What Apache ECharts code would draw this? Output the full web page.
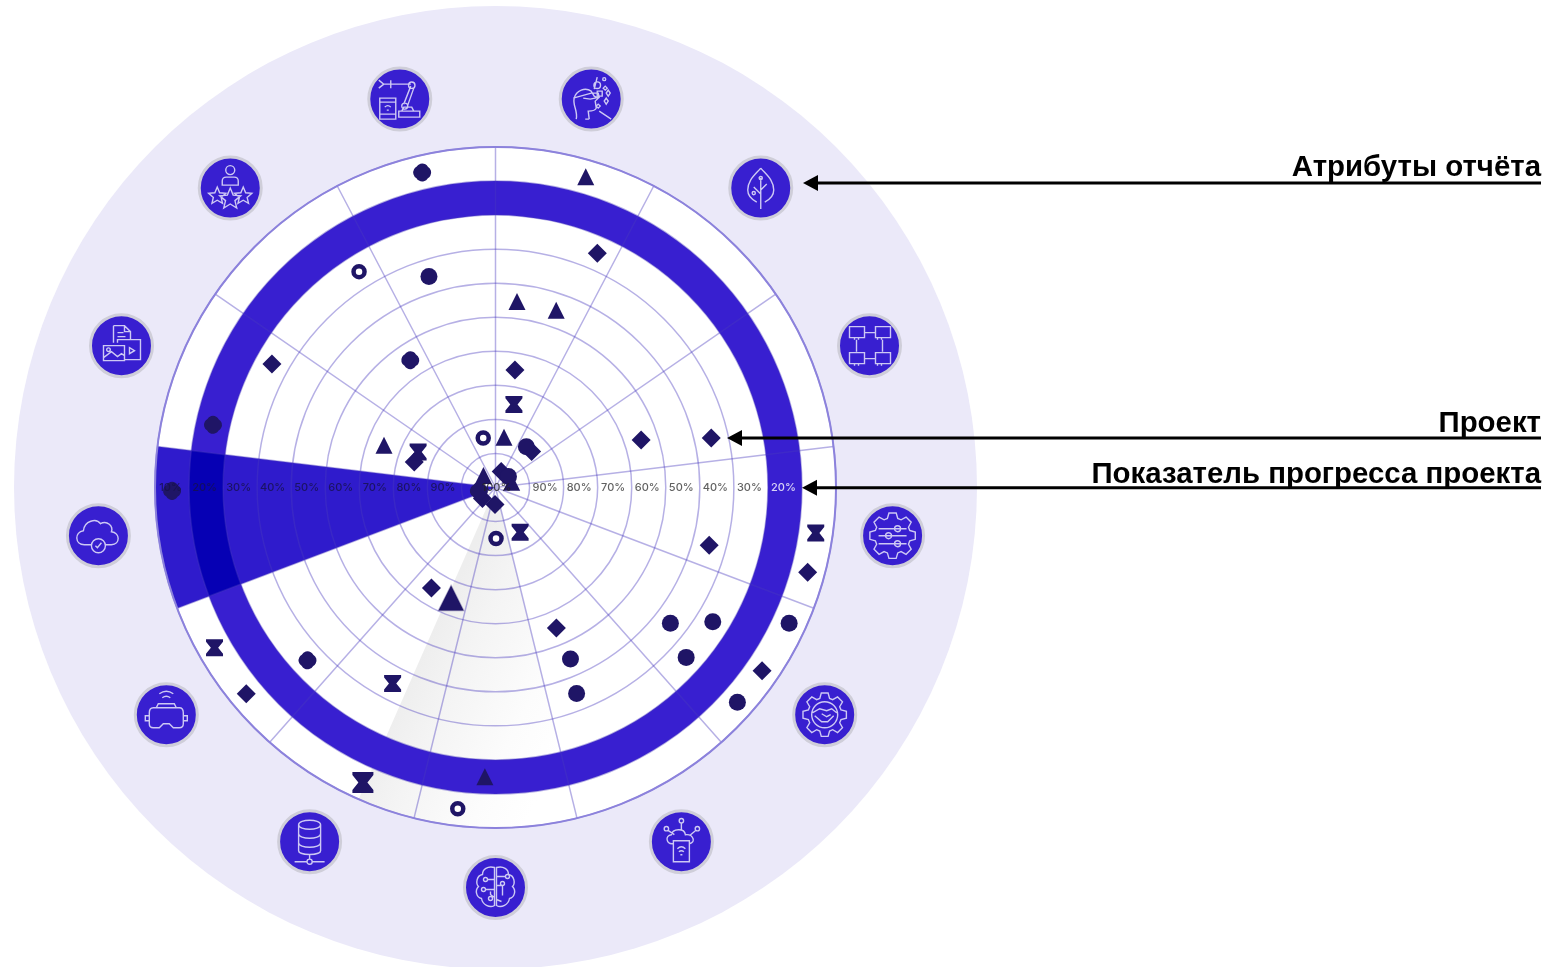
<!DOCTYPE html>
<html><head><meta charset="utf-8">
<style>html,body{margin:0;padding:0;background:#fff}#c{width:1566px;height:967px}</style>
<script src="https://cdn.jsdelivr.net/npm/echarts@6/dist/echarts.min.js"></script>
</head><body><div id="c"></div>
<script>
// ---- data: [progress band position, angle in degrees clockwise from 12 o'clock]
const diamonds = [[25,23.5],[65,9.4],[35,77.1],[55,71.9],[35,105.1],[5,105.2],[5,124.5],[55,156.6],[65,212.5],[5,230.4],[25,298.9],[75,287.4],[95,181.7],[95,230],[85,45],[95,19.5]];
const clovers = [[5,346.9],[15,282.5],[55,326.2],[25,227.4],[5,269.4],[95,258]];
const triangles = [[5,16.2],[45,6.6],[45,18.9],[85,9.6],[65,290.7],[15,182.1],[95,315],[95,72]];
const bigTriangles = [[65,201.9]];
const hourglasses = [[75,12.5],[75,294.6],[85,151.2],[5,98.1],[5,240.3],[35,207.7]];
const bigHourglasses = [[5,204.2]];
const rings = [[25,327.7],[85,346.1],[85,179.4],[5,186.7]];
const circles = [[35,342.5],[35,127.8],[25,121.7],[5,114.8],[25,131.7],[5,131.6],[45,156.4],[35,158.5],[85,37.2],[95,49.6]];
const rightTicks = [90,80,70,60,50,40,30,20];
const leftTicks = [90,80,70,60,50,40,30,20,10];
const centerTick = [100];
const attributeCount = 13;
const callouts = ['Атрибуты отчёта','Проект','Показатель прогресса проекта'];

// ---- styles
const NAVY='#1f1566', BLUE='#381fd0', GRID='rgba(72,58,190,0.40)';
const CX=495.5, CY=487.5, R=340.5, STEP=360/attributeCount;
const circ=(x,y,r)=>`M${x-r} ${y}a${r} ${r} 0 1 0 ${2*r} 0a${r} ${r} 0 1 0 ${-2*r} 0Z`;
const star=(x,y,r)=>{let s='';for(let i=0;i<10;i++){const a=-Math.PI/2+i*Math.PI/5,q=i%2?r*.45:r;s+=(i?'L':'M')+(x+q*Math.cos(a)).toFixed(1)+' '+(y+q*Math.sin(a)).toFixed(1);}return s+'Z';};
const gear=(r1,r2,n)=>{let s='';const w=Math.PI/n;for(let i=0;i<n;i++){const a=i*2*w-w/2;const p=[[r1,a-w*.25],[r2,a+w*.1],[r2,a+w*.9],[r1,a+w*1.25]];p.forEach((q,j)=>{s+=((i===0&&j===0)?'M':'L')+(q[0]*Math.cos(q[1])).toFixed(1)+' '+(q[0]*Math.sin(q[1])).toFixed(1);});}return s+'Z';};
const iconPaths=[
 'M-15 20C-13 12-19 6-17 -1C-15 -9-6 -12 0 -8L3 -3L7 -1L4 2L5 9C4 12 0 12-3 12L-2 20M-18 -1L0 -6L7 -6L8 -2L-1 0L-8 -1M6 -22L3 -10M-2 20H-6'+circ(6,-14,3.3)+circ(13,-20,1.5)+'M6 -8h5v5h-5ZM17 -9l2 3l-2 3l-2 -3ZM15 -1l2 3l-2 3l-2 -3ZM8 12L20 20M14 -13l2 2l-2 2l-2 -2ZM7 5l2 2l-2 2l-2 -2Z',
 'M0 -20C-6 -13-13 -8-13 2C-13 8-8 12-4 14M0 -20C6 -13 13 -8 13 2C13 8 8 12 4 14M0 -10V21M0 6L-7 -1M0 2L6 -4'+circ(0,-10,1.6)+circ(-7,5,1.6),
 'M-20 -19h15v11h-15ZM6 -19h15v11h-15ZM-20 7h15v11h-15ZM6 7h15v11h-15ZM-5 -13h11M-5 13h11M-13 -6V6M13 -6V6M-15 -8v2M-11 -8v2M8 -8v2M12 -8v2M-15 18v2M-11 18v2M8 18v2M12 18v2',
 gear(18,23,8)+'M-14 -7H14M-14 0H14M-14 8H14'+circ(5,-7,3)+circ(-4,0,3)+circ(5,8,3),
 gear(17,22,8)+circ(0,0,13)+'M-12 -2L-5 -6L2 -4L7 -6L12 -2M-10 1L-3 7H3L9 1M-3 -1L2 2L6 0',
 'M-8 2C-15 3-17 -6-10 -7C-9 -13 3 -14 4 -7C12 -8 15 1 8 2M-8 -1h16v21h-16ZM-13 -11L-7 -7M0 -19V-12M14 -11L8 -6M-4 7Q0 3 4 7M-2.5 10Q0 8 2.5 10M-1 13h2'+circ(-15,-13,2.2)+circ(0,-21,2.2)+circ(16,-13,2.2),
 'M-1 -20C-8 -22-13 -18-13 -13C-19 -12-20 -4-17 -1C-21 3-19 10-14 11C-13 17-6 21-1 18ZM1 -20C8 -22 13 -18 13 -13C19 -12 20 -4 17 -1C21 3 19 10 14 11C13 17 6 21 1 18ZM-1 -8H-8M-1 2H-10M-1 10L-5 7V4M1 -11H10M1 -2H7V8M1 12L6 14'+circ(-10,-8,2)+circ(-12,2,2)+circ(12,-11,2)+circ(7,-4,2)+circ(-5,11,2),
 'M-11 -17C-11 -23 11 -23 11 -17V9C11 14-11 14-11 9ZM-11 -17C-11 -11 11 -11 11 -17M-11 -8C-11 -2 11 -2 11 -8M-11 1C-11 7 11 7 11 1M0 12V17M-15 20H-3M3 20H15'+circ(0,20,2.6),
 'M-17 -2Q-17 -7-13 -7H13Q17 -7 17 -2V9Q17 13 13 13H7L3 9H-3L-7 13H-13Q-17 13-17 9ZM-17 1H-21V6H-17M17 1H21V6H17M-10 -7L-8 -11H8L10 -7M-7 -21Q0 -26 7 -21M-4 -17Q0 -20 4 -17',
 'M-7 9H-14C-24 9-24 -4-15 -5C-14 -15-2 -18 2 -12C9 -16 15 -9 13 -4C22 -3 22 9 13 9H7M-3 10L-1 12L3 7'+circ(0,10,7),
 'M-8 -20H3L9 -14V-6M-8 -20V-3M3 -20V-14H9M-4 -13H2M-4 -9H4M-4 -3V-6H19V14H3M-18 0H3V15H-18ZM-18 12L-10 6L-4 11L0 8L3 10M8 2L13 5L8 8Z'+circ(-13,4,1.8),
 circ(0,-18,4.5)+'M-8 -3V-7Q-8 -11-4 -11H4Q8 -11 8 -7V-3Z'+star(-13,8,9)+star(13,8,9)+star(0,11,11),
 'M-21 -19L-16 -15L-21 -11M-16 -15H-9M-9 -19V-11M-9 -15H11M11 -13L4 5M14 -11L8 6M-1 12H20V18H-1ZM2 12L4 8H12L14 12M-20 -1H-4V20H-20ZM-20 3H-4M-20 15H-4M-15 8Q-12 5-9 8M-13 11h2'+circ(12,-14,3.2)+circ(5,7,3)
];
const FRAME='M-24 -24h.01M24 24h.01';
const HOURGLASS='path://M0 0H14V2L10 7L14 12V14H0V12L4 7L0 2Z';
const CLOVER='path://M5 5A4.6 4.6 0 0 1 13 5A4.6 4.6 0 0 1 13 13A4.6 4.6 0 0 1 5 13A4.6 4.6 0 0 1 5 5Z';

const markSeries=(data,symbol,size,style)=>({type:'scatter',coordinateSystem:'polar',data,symbol,symbolSize:size,z:5,silent:true,
  itemStyle:Object.assign({color:NAVY,opacity:1},style||{})});

const bands=[ // [inner progress, outer progress, from angle, to angle, colour index]
 [95,0,STEP*6,203.7,0],
 [20,10,0,360,1],
 [100,0,STEP*9,STEP*10,2],
 [20,10,STEP*9,STEP*10,3]
];
const bandFill=[
 {type:'linear',x:435,y:628,x2:585,y2:700,global:true,colorStops:[{offset:0,color:'#eeeeee'},{offset:.25,color:'#f4f4f4'},{offset:.7,color:'#fcfcfc'},{offset:1,color:'#ffffff'}]},
 BLUE,
 'rgba(40,20,202,0.97)',
 '#0600b4'
];
function renderBand(params,api){
 const c=params.coordSys;
 const dist=p=>{const q=api.coord([p,0]);return Math.hypot(q[0]-c.cx,q[1]-c.cy);};
 const i=api.value(4);
 return {type:'sector',z2:i,shape:{cx:c.cx,cy:c.cy,r0:dist(api.value(0)),r:dist(api.value(1)),
   startAngle:(api.value(2)-90)*Math.PI/180,endAngle:(api.value(3)-90)*Math.PI/180,clockwise:true},
   style:{fill:bandFill[i]}};
}
function renderIcon(params,api){
 const q=api.coord([api.value(0),api.value(1)]),i=api.value(2);
 return {type:'group',x:q[0],y:q[1],children:[
  {type:'circle',shape:{cx:0,cy:0,r:31},style:{fill:BLUE,stroke:'#cfced9',lineWidth:3}},
  {type:'path',shape:{pathData:FRAME+iconPaths[i],x:-24,y:-24,width:48,height:48},style:{fill:null,stroke:'#cdc8f4',lineWidth:1.4}}
 ]};
}
const iconRadial=100-400/(R/100);
const iconData=Array.from({length:attributeCount},(_,i)=>[iconRadial,(i+.5)*STEP,i]);
// tick labels sit in the middle of the band they name; the 100% label sits on the centre
const labelSeries=(ticks,pos,angle,colorFn,dx)=>({type:'scatter',coordinateSystem:'polar',symbol:'circle',symbolSize:1,z:6,silent:true,
  itemStyle:{color:'rgba(0,0,0,0)'},
  data:ticks.map(t=>({value:[pos(t),angle,t],label:{color:colorFn(t)}})),
  label:{show:true,position:'inside',offset:[dx,0],formatter:p=>p.value[2]+'%',fontFamily:'Inter',fontSize:11,fontWeight:500}});

const calloutGeom=[[183,803,168],[438,727,424],[487.7,802,475]];
const graphics=[
 {type:'circle',shape:{cx:CX,cy:CY,r:481.5},style:{fill:'#ebe9f9'},z:-20,silent:true},
 {type:'circle',shape:{cx:CX,cy:CY,r:R},style:{fill:'#ffffff'},z:-19,silent:true}
];
calloutGeom.forEach((g,i)=>{
 graphics.push({type:'line',shape:{x1:g[1]+12,y1:g[0],x2:1541,y2:g[0]},style:{stroke:'#000',lineWidth:3},z:100,silent:true});
 graphics.push({type:'polygon',shape:{points:[[g[1],g[0]],[g[1]+15,g[0]-8],[g[1]+15,g[0]+8]]},style:{fill:'#000'},z:100,silent:true});
 graphics.push({type:'text',x:1541,y:g[2],style:{text:callouts[i],fill:'#000',font:'bold 29.4px "Liberation Sans"',textAlign:'right',textVerticalAlign:'middle'},z:100,silent:true});
});

const chart=echarts.init(document.getElementById('c'),null,{renderer:'canvas'});
chart.setOption({
 animation:false,backgroundColor:'#fff',
 polar:{center:[CX,CY],radius:R},
 angleAxis:{type:'value',min:0,max:360,interval:STEP,startAngle:90,clockwise:true,z:3,
   axisLine:{show:true,lineStyle:{color:'#8c82dc',width:2}},axisTick:{show:false},axisLabel:{show:false},
   splitLine:{show:true,lineStyle:{color:GRID,width:1.5}}},
 radiusAxis:{type:'value',min:0,max:100,interval:10,inverse:true,z:3,
   axisLine:{show:false},axisTick:{show:false},axisLabel:{show:false},
   splitLine:{show:true,lineStyle:{color:GRID,width:1.5}}},
 graphic:{elements:graphics},
 series:[
  {type:'custom',coordinateSystem:'polar',renderItem:renderBand,data:bands,z:1,silent:true,encode:{radius:0,angle:2}},
  {type:'custom',coordinateSystem:'polar',renderItem:renderIcon,data:iconData,z:5,silent:true,encode:{radius:0,angle:1},clip:false},
  markSeries(diamonds,'diamond',19),
  markSeries(clovers,CLOVER,18),
  markSeries(triangles,'triangle',17),
  markSeries(bigTriangles,'triangle',25,{borderColor:'rgba(31,21,102,.35)',borderWidth:1.5}),
  markSeries(hourglasses,HOURGLASS,17),
  markSeries(bigHourglasses,HOURGLASS,21),
  markSeries(rings,'circle',11,{color:'#fff',borderColor:NAVY,borderWidth:4.5}),
  markSeries(circles,'circle',17),
  labelSeries(rightTicks,t=>t-5,90,t=>t===20?'#ffffff':'#3a3a3a',-1.5),
  labelSeries(leftTicks,t=>t-5,270,()=>'#17124a',-1.5),
  labelSeries(centerTick,t=>t,0,()=>'#222',1)
 ]
});
</script></body></html>
